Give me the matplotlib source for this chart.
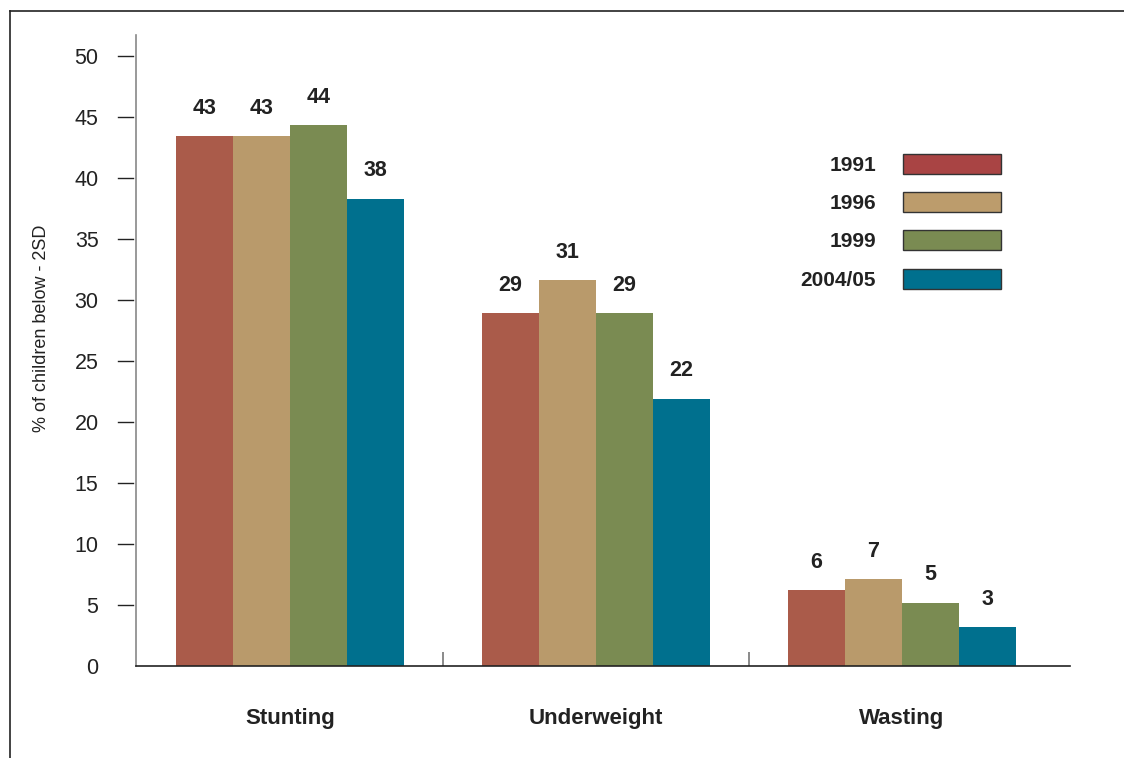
import matplotlib
matplotlib.use("Agg")
import numpy as np
import matplotlib.pyplot as plt
from matplotlib.lines import Line2D
import matplotlib.transforms as mtransforms

plt.rcParams['font.family'] = ['Liberation Sans', 'DejaVu Sans']

# dati
categories = ["Stunting", "Underweight", "Wasting"]
years = ["1991", "1996", "1999", "2004/05"]
values_1991 = [43.4, 28.9, 6.2]
values_1996 = [43.4, 31.6, 7.1]
values_1999 = [44.3, 28.9, 5.2]
values_2004 = [38.3, 21.9, 3.2]
labels_1991 = [43, 29, 6]
labels_1996 = [43, 31, 7]
labels_1999 = [44, 29, 5]
labels_2004 = [38, 22, 3]
y_ticks = [0, 5, 10, 15, 20, 25, 30, 35, 40, 45, 50]

series = [values_1991, values_1996, values_1999, values_2004]
series_labels = [labels_1991, labels_1996, labels_1999, labels_2004]
colors = ["#aa5b4a", "#b99a6b", "#7a8b52", "#00708e"]
legend_colors = ["#a94444", "#bc9c6c", "#7a8b52", "#00708e"]

fig = plt.figure(figsize=(11.24, 7.58), dpi=100)
ax = fig.add_axes([136/1124, 1-666/758, (1070-136)/1124, (666-35)/758])

x = np.arange(len(categories))
w = 0.186
for i, (vals, labs) in enumerate(zip(series, series_labels)):
    pos = x + (i - 1.5) * w
    ax.bar(pos, vals, width=w, color=colors[i], label=years[i])
    for p, v, l in zip(pos, vals, labs):
        ax.annotate(str(l), (p, v), xytext=(0, 20), textcoords="offset points",
                    ha="center", va="center", fontsize=15.5, fontweight="bold",
                    color="#222222")

ax.set_xlim(-0.503, 2.549)
ax.set_ylim(0, 51.7)

# spine
for s in ["top", "right"]:
    ax.spines[s].set_visible(False)
ax.spines["left"].set_color("#888888")
ax.spines["left"].set_linewidth(1.2)
ax.spines["bottom"].set_color("#222222")
ax.spines["bottom"].set_linewidth(1.2)

# asse y: tacche staccate dalla linea
ax.set_yticks(y_ticks)
ax.tick_params(axis="y", length=0, pad=27, labelsize=15.5, labelcolor="#222222")
trans = mtransforms.blended_transform_factory(ax.transAxes, ax.transData)
for t in y_ticks[1:]:
    ax.add_line(Line2D([-0.0195, -0.0035], [t, t], transform=trans,
                       color="#222222", lw=1.0, clip_on=False))

# asse x
ax.set_xticks(x)
ax.set_xticklabels(categories, fontsize=16, fontweight="bold", color="#222222")
ax.tick_params(axis="x", which="major", length=0, pad=30)
ax.set_xticks([0.5, 1.5], minor=True)
ax.tick_params(axis="x", which="minor", direction="in", length=10,
               color="#777777", width=1.2)

fig.text(42/1124, 1-328/758, "% of children below - 2SD", rotation=90,
         ha="center", va="center", fontsize=13, color="#222222")

# legenda con testo a sinistra
handles = [plt.Rectangle((0, 0), 1, 1, facecolor=c, edgecolor="#333333", lw=1.0)
           for c in legend_colors]
leg = ax.legend(handles, years, loc="upper right", bbox_to_anchor=(0.926, 0.812),
                markerfirst=False, frameon=False, borderpad=0, borderaxespad=0,
                handlelength=4.7, handleheight=1.1, handletextpad=1.3,
                labelspacing=0.83, prop={"size": 15, "weight": "bold"})
for t in leg.get_texts():
    t.set_color("#222222")

# cornice
fig.add_artist(Line2D([10/1124, 10/1124], [0, 1-11/758], color="#222222", lw=1.2))
fig.add_artist(Line2D([10/1124, 1], [1-11/758, 1-11/758], color="#222222", lw=1.2))

fig.savefig("out.png", dpi=100)
